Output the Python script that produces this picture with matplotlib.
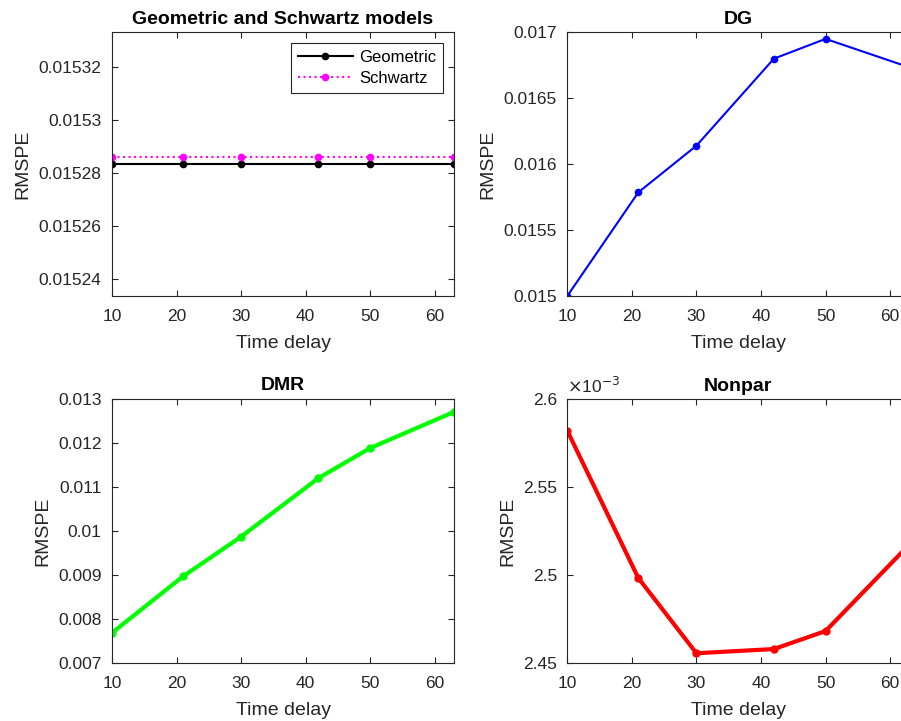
import numpy as np
import matplotlib
matplotlib.use('Agg')
import matplotlib.pyplot as plt
from matplotlib.ticker import FuncFormatter

plt.rcParams['font.family'] = ['Liberation Sans', 'DejaVu Sans']

delay = [10, 21, 30, 42, 50, 63]
geometric = [0.0152833] * 6
schwartz = [0.0152861] * 6
dg = [0.015, 0.015786, 0.01614, 0.0168, 0.01695, 0.016734]
dmr = [0.00769, 0.00897, 0.00987, 0.0112, 0.01188, 0.0127]
nonpar = [2.582e-3, 2.4984e-3, 2.4557e-3, 2.4581e-3, 2.4683e-3, 2.5175e-3]

W, H = 901, 721
fig = plt.figure(figsize=(W / 100, H / 100), dpi=100)

def px_axes(x0, y0, x1, y1):
    return fig.add_axes([x0 / W, 1 - y1 / H, (x1 - x0) / W, (y1 - y0) / H])

def style(ax, title, ylim, yticks):
    ax.set_xlim(10, 63)
    ax.set_xticks([10, 20, 30, 40, 50, 60])
    ax.set_ylim(*ylim)
    ax.set_yticks(yticks)
    ax.tick_params(direction='in', top=True, right=True, labelsize=12.5,
                   length=4, width=0.8, colors='#262626', labelcolor='#262626')
    ax.tick_params(axis='x', pad=9)
    ax.tick_params(axis='y', pad=7.5)
    for s in ax.spines.values():
        s.set_color('#262626')
        s.set_linewidth(0.8)
    ax.set_title(title, fontsize=14, fontweight='bold', pad=6)
    ax.set_xlabel('Time delay', fontsize=14, color='#262626', labelpad=8)
    ax.set_ylabel('RMSPE', fontsize=14, color='#262626', labelpad=5)

g = lambda v, p: '%g' % v

ax1 = px_axes(112, 32, 454, 296)
ax1.plot(delay, geometric, '-', color='black', lw=1.5, marker='o', ms=4.5, label='Geometric')
ax1.plot(delay, schwartz, ':', color='magenta', lw=1.5, marker='o', ms=4.5, label='Schwartz')
style(ax1, 'Geometric and Schwartz models', (0.0152337, 0.0153332),
      [0.01524, 0.01526, 0.01528, 0.0153, 0.01532])
ax1.yaxis.set_major_formatter(FuncFormatter(g))
leg = ax1.legend(loc='upper right', fontsize=12, fancybox=False, framealpha=1,
                 edgecolor='#262626', borderaxespad=0.65, handlelength=3.3,
                 handletextpad=0.4, labelspacing=0.4, borderpad=0.4)
leg.get_frame().set_linewidth(0.8)

ax2 = px_axes(567.3, 32.3, 909.5, 296)
ax2.plot(delay, dg, '-', color='blue', lw=1.5, marker='o', ms=4.5)
style(ax2, 'DG', (0.015, 0.017), [0.015, 0.0155, 0.016, 0.0165, 0.017])
ax2.yaxis.set_major_formatter(FuncFormatter(g))

ax3 = px_axes(112, 398.7, 454, 663.3)
ax3.plot(delay, dmr, '-', color='#00ff00', lw=3, marker='o', ms=5)
style(ax3, 'DMR', (0.007, 0.013), [0.007, 0.008, 0.009, 0.01, 0.011, 0.012, 0.013])
ax3.yaxis.set_major_formatter(FuncFormatter(g))

ax4 = px_axes(567.3, 399, 909.5, 663.3)
ax4.plot(delay, nonpar, '-', color='red', lw=3, marker='o', ms=5)
style(ax4, 'Nonpar', (2.45e-3, 2.6e-3), [2.45e-3, 2.5e-3, 2.55e-3, 2.6e-3])
ax4.yaxis.set_major_formatter(FuncFormatter(lambda v, p: '%g' % round(v * 1e3, 6)))
ax4.text(0.0, 1.01, r'$\times$10$^{-3}$', transform=ax4.transAxes, fontsize=12.5,
         color='#262626', ha='left', va='bottom')

fig.savefig('out.png', dpi=100)
